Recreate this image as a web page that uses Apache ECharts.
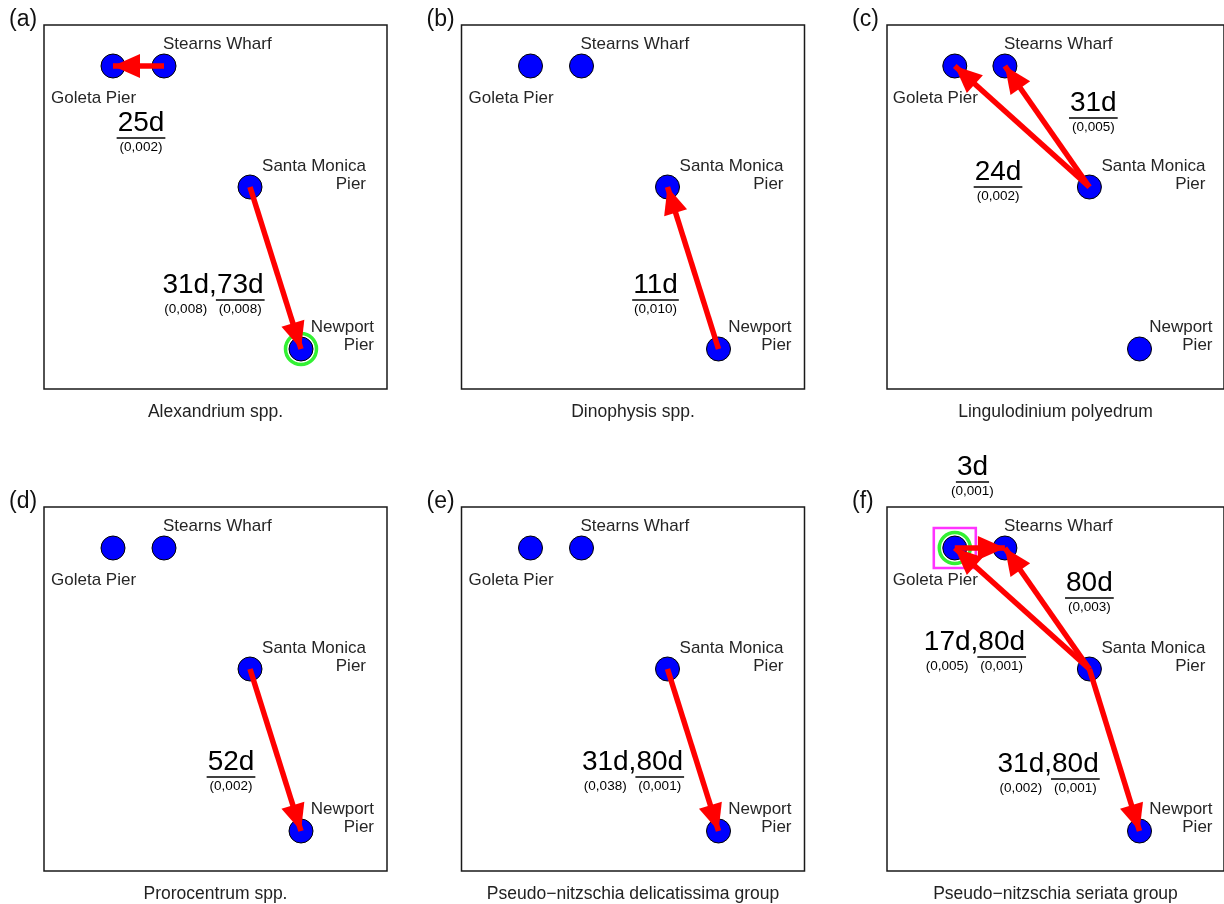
<!DOCTYPE html>
<html><head><meta charset="utf-8">
<script src="https://cdn.jsdelivr.net/npm/echarts@6/dist/echarts.min.js"></script>
<style>html,body{margin:0;padding:0;background:#fff}#c{width:1224px;height:904px}</style>
</head><body><div id="c"></div>
<script>
// ---------- data ----------
const panelLetters = ['(a)', '(b)', '(c)', '(d)', '(e)', '(f)'];
const panelTitles = ['Alexandrium spp.', 'Dinophysis spp.', 'Lingulodinium polyedrum',
  'Prorocentrum spp.', 'Pseudo\u2212nitzschia delicatissima group', 'Pseudo\u2212nitzschia seriata group'];
const sites = ['Goleta Pier', 'Stearns Wharf', 'Santa Monica\nPier', 'Newport\nPier'];
const siteX = [69, 120, 206, 257];
const siteY = [41, 41, 162, 324];
// directed links (site index from -> to), per panel
const edgePanel = [0, 0, 1, 2, 2, 3, 4, 5, 5, 5, 5];
const edgeFrom  = [1, 2, 3, 2, 2, 2, 2, 0, 2, 2, 2];
const edgeTo    = [0, 3, 2, 0, 1, 3, 3, 1, 1, 0, 3];
// lag labels (last lag is underlined)
const lagPanel = [0, 0, 1, 2, 2, 3, 4, 5, 5, 5, 5];
const lagDays = [['25d'], ['31d', '73d'], ['11d'], ['31d'], ['24d'], ['52d'], ['31d', '80d'],
  ['3d'], ['80d'], ['17d', '80d'], ['31d', '80d']];
const lagP = [['(0,002)'], ['(0,008)', '(0,008)'], ['(0,010)'], ['(0,005)'], ['(0,002)'], ['(0,002)'],
  ['(0,038)', '(0,001)'], ['(0,001)'], ['(0,003)'], ['(0,005)', '(0,001)'], ['(0,002)', '(0,001)']];
// highlighted sites: [panel, site]
const ringSites = [[0, 3], [5, 0]];
const squareSites = [[5, 0]];

// ---------- layout ----------
const lagPos = [[97, 98], [169, 260], [194, 260], [210, 78], [113, 147], [187, 255], [171, 255],
  [87, -40], [206, 76], [89, 135], [164, 257]];
const gridLeft = [44, 461.5, 887], gridTop = [25, 507], gridW = 343, gridH = 364;
const FONT = '"Liberation Sans", Arial, Helvetica, sans-serif';
const siteLabelStyle = [
  { dx: -62, dy: 32, align: 'left' },
  { dx: -1, dy: -22, align: 'left' },
  { dx: 116, dy: -11.5, align: 'right' },
  { dx: 73, dy: -12.5, align: 'right' }
];
const ARROW = 'path://M0,-25 L0,-25 M0,0 L11.5,25 L-11.5,25 Z';

const mctx = document.createElement('canvas').getContext('2d');
function textW(t, size) { mctx.font = size + 'px ' + FONT; return mctx.measureText(t).width; }

const grids = [], xAxes = [], yAxes = [], series = [], titles = [];
for (let p = 0; p < 6; p++) {
  const col = p % 3, row = Math.floor(p / 3);
  grids.push({ left: gridLeft[col], top: gridTop[row], width: gridW, height: gridH,
    show: true, borderColor: '#1a1a1a', borderWidth: 1.5, backgroundColor: 'transparent' });
  xAxes.push({ gridIndex: p, type: 'value', min: 0, max: gridW,
    axisLine: { show: false }, axisTick: { show: false }, axisLabel: { show: false }, splitLine: { show: false },
    name: panelTitles[p], nameLocation: 'middle', nameGap: 14,
    nameTextStyle: { fontSize: 17.5, color: '#222', fontFamily: FONT, verticalAlign: 'top' } });
  yAxes.push({ gridIndex: p, type: 'value', min: 0, max: gridH, inverse: true, show: false });
  titles.push({ text: panelLetters[p], left: gridLeft[col] - 35, top: gridTop[row] - 17, padding: 0,
    textStyle: { fontSize: 23, fontWeight: 'normal', fontFamily: FONT, color: '#111' } });

  // highlight squares
  const sq = squareSites.filter(h => h[0] === p).map(h => [siteX[h[1]], siteY[h[1]]]);
  if (sq.length) series.push({ type: 'scatter', xAxisIndex: p, yAxisIndex: p, z: 1, silent: true,
    symbol: 'rect', symbolSize: [42, 40], data: sq,
    itemStyle: { color: 'rgba(0,0,0,0)', borderColor: '#ff00ff', borderWidth: 2.5 } });
  // rings
  const rg = ringSites.filter(h => h[0] === p).map(h => [siteX[h[1]], siteY[h[1]]]);
  if (rg.length) series.push({ type: 'scatter', xAxisIndex: p, yAxisIndex: p, z: 2, silent: true,
    symbol: 'circle', symbolSize: 31, data: rg,
    itemStyle: { color: 'rgba(0,0,0,0)', borderColor: '#00ee00', borderWidth: 3.5 } });
  // nodes
  series.push({ type: 'scatter', xAxisIndex: p, yAxisIndex: p, z: 3, silent: true,
    symbol: 'circle', symbolSize: 24,
    data: siteX.map((x, i) => [x, siteY[i]]),
    itemStyle: { color: '#0000ff', borderColor: '#000', borderWidth: 1, opacity: 1 } });
  // arrows
  const ed = [];
  edgePanel.forEach((ep, i) => { if (ep === p) ed.push({ coords: [[siteX[edgeFrom[i]], siteY[edgeFrom[i]]], [siteX[edgeTo[i]], siteY[edgeTo[i]]]] }); });
  if (ed.length) series.push({ type: 'lines', coordinateSystem: 'cartesian2d', xAxisIndex: p, yAxisIndex: p,
    z: 4, silent: true, symbol: ['none', ARROW], symbolSize: [0, [24, 54]], data: ed,
    lineStyle: { color: '#ff0000', width: 5.5, opacity: 1, cap: 'butt' } });
  // site labels
  series.push({ type: 'custom', xAxisIndex: p, yAxisIndex: p, z: 5, silent: true, clip: false,
    data: siteX.map((x, i) => [x, siteY[i], i]),
    renderItem: function (params, api) {
      const pt = api.coord([api.value(0), api.value(1)]);
      const s = siteLabelStyle[api.value(2)];
      return { type: 'text', x: pt[0] + s.dx, y: pt[1] + s.dy,
        style: { text: sites[api.value(2)], fontSize: 17, fontFamily: FONT, fill: '#262626',
          align: s.align, verticalAlign: 'middle', lineHeight: 18.5 } };
    } });
  // lag labels
  const lg = [];
  lagPanel.forEach((lp, i) => { if (lp === p) lg.push([lagPos[i][0], lagPos[i][1], i]); });
  if (lg.length) series.push({ type: 'custom', xAxisIndex: p, yAxisIndex: p, z: 6, silent: true, clip: false,
    data: lg,
    renderItem: function (params, api) {
      const pt = api.coord([api.value(0), api.value(1)]);
      const i = api.value(2);
      const parts = lagDays[i], ps = lagP[i];
      const big = 28, small = 13.5;
      const comma = textW(',', big);
      let total = 0;
      parts.forEach((t, j) => { total += textW(t, big) + (j < parts.length - 1 ? comma : 0); });
      let x = pt[0] - total / 2;
      const children = [];
      parts.forEach((t, j) => {
        const w = textW(t, big);
        children.push({ type: 'text', x: x, y: pt[1], style: { text: t, fontSize: big, fontFamily: FONT,
          fill: '#000', align: 'left', verticalAlign: 'middle' } });
        children.push({ type: 'text', x: x + w / 2, y: pt[1] + 24.5, style: { text: ps[j], fontSize: small,
          fontFamily: FONT, fill: '#000', align: 'center', verticalAlign: 'middle' } });
        if (j === parts.length - 1) {
          children.push({ type: 'line', shape: { x1: x - 1, y1: pt[1] + 15, x2: x + w + 1, y2: pt[1] + 15 },
            style: { stroke: '#000', lineWidth: 1.5 } });
        } else {
          children.push({ type: 'text', x: x + w, y: pt[1], style: { text: ',', fontSize: big, fontFamily: FONT,
            fill: '#000', align: 'left', verticalAlign: 'middle' } });
        }
        x += w + (j < parts.length - 1 ? comma : 0);
      });
      return { type: 'group', children: children };
    } });
}

const chart = echarts.init(document.getElementById('c'), null, { renderer: 'canvas' });
chart.setOption({
  animation: false,
  backgroundColor: '#fff',
  title: titles,
  grid: grids,
  xAxis: xAxes,
  yAxis: yAxes,
  series: series
});
</script>
</body></html>
